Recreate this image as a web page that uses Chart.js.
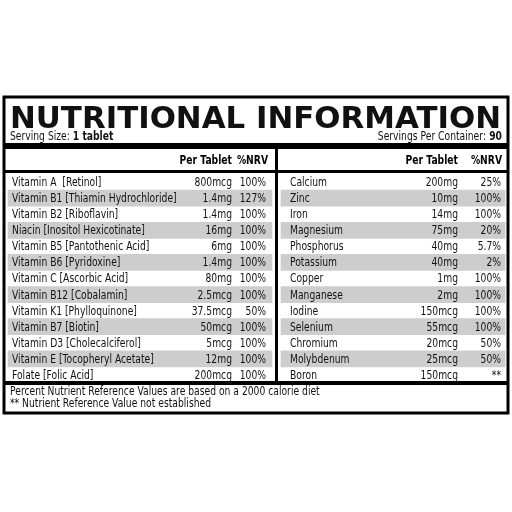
<!DOCTYPE html>
<html><head><meta charset="utf-8">
<script src="https://cdn.jsdelivr.net/npm/chart.js@4"></script>
<style>body{margin:0;background:#fff}canvas{display:block}</style>
</head><body>
<canvas id="c" width="512" height="512"></canvas>
<script>
const leftNames = ['Vitamin A  [Retinol]','Vitamin B1 [Thiamin Hydrochloride]','Vitamin B2 [Riboflavin]','Niacin [Inositol Hexicotinate]','Vitamin B5 [Pantothenic Acid]','Vitamin B6 [Pyridoxine]','Vitamin C [Ascorbic Acid]','Vitamin B12 [Cobalamin]','Vitamin K1 [Phylloquinone]','Vitamin B7 [Biotin]','Vitamin D3 [Cholecalciferol]','Vitamin E [Tocopheryl Acetate]','Folate [Folic Acid]'];
const leftAmounts = ['800mcg','1.4mg','1.4mg','16mg','6mg','1.4mg','80mg','2.5mcg','37.5mcg','50mcg','5mcg','12mg','200mcg'];
const leftNrv = ['100%','127%','100%','100%','100%','100%','100%','100%','50%','100%','100%','100%','100%'];
const rightNames = ['Calcium','Zinc','Iron','Magnesium','Phosphorus','Potassium','Copper','Manganese','Iodine','Selenium','Chromium','Molybdenum','Boron'];
const rightAmounts = ['200mg','10mg','14mg','75mg','40mg','40mg','1mg','2mg','150mcg','55mcg','20mcg','25mcg','150mcg'];
const rightNrv = ['25%','100%','100%','20%','5.7%','2%','100%','100%','100%','100%','50%','50%','**'];
const rows = leftNames.map((_, i) => 'r' + i);

const shadeLeft = rows.map((_, i) => i % 2 ? [8, 272] : null);
const shadeRight = rows.map((_, i) => i % 2 ? [281, 505] : null);

const FONT = "'DejaVu Sans', sans-serif";
const SQUEEZE = 0.8;

// draw text horizontally condensed; align is left or right
function text(ctx, s, x, y, align) {
  ctx.save();
  ctx.translate(x, y);
  ctx.scale(SQUEEZE, 1);
  ctx.textAlign = align || 'left';
  ctx.fillText(s, 0, 0);
  ctx.restore();
}

const tablePlugin = {
  id: 'table',
  afterDatasetsDraw(chart) {
    const ctx = chart.ctx, y = chart.scales.y, x = chart.scales.x;
    const px = v => x.getPixelForValue(v);
    ctx.save();
    ctx.strokeStyle = '#000'; ctx.lineWidth = 3;
    ctx.strokeRect(px(4), 97, px(508) - px(4), 316);
    // title
    ctx.fillStyle = '#111';
    ctx.font = "bold 30px " + FONT;
    ctx.textBaseline = 'alphabetic'; ctx.textAlign = 'left';
    const t = 'NUTRITIONAL INFORMATION';
    const w = ctx.measureText(t).width;
    ctx.save(); ctx.translate(px(10), 128); ctx.scale((px(501) - px(10)) / w, 1); ctx.fillText(t, 0, 0); ctx.restore();
    ctx.font = '11.5px ' + FONT;
    text(ctx, 'Serving Size: ', px(10), 140);
    const sw = ctx.measureText('Serving Size: ').width * SQUEEZE;
    ctx.font = 'bold 11.5px ' + FONT; text(ctx, '1 tablet', px(10) + sw, 140);
    text(ctx, '90', px(502), 140, 'right');
    const nw = ctx.measureText('90 ').width * SQUEEZE;
    ctx.font = '11.5px ' + FONT; text(ctx, 'Servings Per Container:', px(502) - nw, 140, 'right');
    ctx.fillStyle = '#000'; ctx.fillRect(px(5), 143, px(507) - px(5), 6);
    ctx.font = 'bold 11.5px ' + FONT;
    text(ctx, 'Per Tablet', px(232), 164, 'right'); text(ctx, '%NRV', px(268), 164, 'right');
    text(ctx, 'Per Tablet', px(458), 164, 'right'); text(ctx, '%NRV', px(502), 164, 'right');
    ctx.fillRect(px(5), 170, px(507) - px(5), 3);
    ctx.fillRect(px(275), 149, 3, 234);
    ctx.fillRect(px(5), 381, px(507) - px(5), 4);
    // rows
    ctx.font = '11.5px ' + FONT; ctx.textBaseline = 'middle'; ctx.fillStyle = '#111';
    rows.forEach((r, i) => {
      const yy = y.getPixelForValue(i) + 1;
      text(ctx, leftNames[i], px(12), yy);
      text(ctx, rightNames[i], px(290), yy);
      text(ctx, leftAmounts[i], px(232), yy, 'right');
      text(ctx, leftNrv[i], px(266), yy, 'right');
      text(ctx, rightAmounts[i], px(458), yy, 'right');
      text(ctx, rightNrv[i], px(501), yy, 'right');
    });
    ctx.textBaseline = 'alphabetic';
    text(ctx, 'Percent Nutrient Reference Values are based on a 2000 calorie diet', px(10), 395);
    text(ctx, '** Nutrient Reference Value not established', px(10), 407);
    ctx.restore();
  }
};

new Chart(document.getElementById('c'), {
  type: 'bar',
  data: {
    labels: rows,
    datasets: [
      { data: shadeLeft, backgroundColor: '#cdcdcd', barPercentage: 1, categoryPercentage: 1, grouped: false },
      { data: shadeRight, backgroundColor: '#cdcdcd', barPercentage: 1, categoryPercentage: 1, grouped: false }
    ]
  },
  options: {
    indexAxis: 'y',
    responsive: false,
    animation: false,
    events: [],
    layout: { padding: { top: 174, bottom: 129, left: 0, right: 0 } },
    scales: {
      x: { type: 'linear', min: 0, max: 512, display: false },
      y: { display: false }
    },
    plugins: { legend: { display: false }, tooltip: { enabled: false } }
  },
  plugins: [tablePlugin]
});
</script>
</body></html>
